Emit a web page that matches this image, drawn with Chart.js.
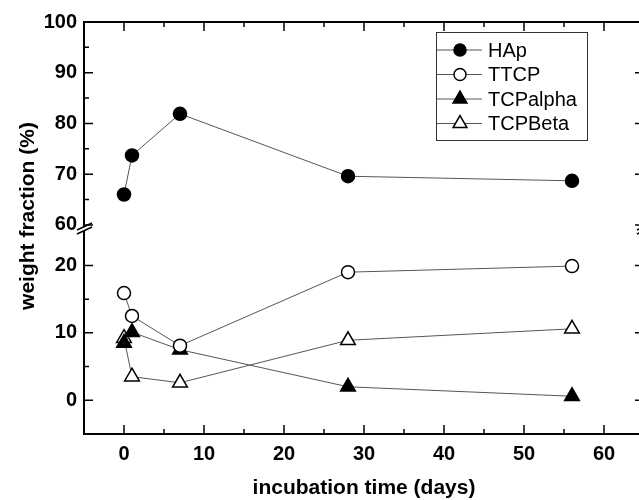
<!DOCTYPE html>
<html>
<head>
<meta charset="utf-8">
<script src="https://cdn.jsdelivr.net/npm/chart.js@4.4.1/dist/chart.umd.min.js"></script>
<style>
  html, body { margin: 0; padding: 0; background: #fff; overflow: hidden; }
  canvas { display: block; }
</style>
</head>
<body>
<canvas id="chart" width="660" height="500"></canvas>
<script>
// data
const days = [0, 1, 7, 28, 56];
const hap = [66.0, 73.7, 81.9, 69.6, 68.7];
const ttcp = [15.9, 12.5, 8.1, 19.0, 19.9];
const tcpAlpha = [8.5, 10.1, 7.5, 2.0, 0.6];
const tcpBeta = [9.2, 3.5, 2.6, 8.9, 10.6];
const seriesNames = ['HAp', 'TTCP', 'TCPalpha', 'TCPBeta'];
const xTicks = [0, 10, 20, 30, 40, 50, 60];
const yLowTicks = [0, 10, 20];
const yHighTicks = [60, 70, 80, 90, 100];

const FONT = '"Liberation Sans", Arial, sans-serif';
Chart.defaults.font.family = FONT;
Chart.defaults.color = '#000';

function pts(ys) {
    return days.map((d, i) => ({ x: d, y: ys[i] }));
}

const markers = [
    { style: 'circle', fill: '#000', r: 6.5 },
    { style: 'circle', fill: '#fff', r: 6.5 },
    { style: 'triangle', fill: '#000', r: 8.5 },
    { style: 'triangle', fill: '#fff', r: 8.5 }
];

function makeSet(i, ys, axis) {
    const m = markers[i];
    return {
        label: seriesNames[i],
        data: pts(ys),
        yAxisID: axis,
        borderColor: '#555',
        borderWidth: 1,
        pointStyle: m.style,
        pointRadius: m.r,
        pointBackgroundColor: m.fill,
        pointBorderColor: '#000',
        pointBorderWidth: 1.5,
        tension: 0
    };
}

function setTicks(list) {
    return function (scale) {
        scale.ticks = list.map(v => ({ value: v }));
    };
}

// frame, inward ticks, axis break, titles and boxed legend
const decorations = {
    id: 'decorations',
    afterDraw(chart) {
        const ctx = chart.ctx;
        const a = chart.chartArea;
        const x = chart.scales.x;
        const lo = chart.scales.yLow;
        const hi = chart.scales.yHigh;
        const brk = lo.top;
        ctx.save();
        ctx.strokeStyle = '#000';
        ctx.lineWidth = 2;
        ctx.beginPath();
        ctx.moveTo(a.left - 1, a.top); ctx.lineTo(a.right + 1, a.top);
        ctx.moveTo(a.left - 1, a.bottom); ctx.lineTo(a.right + 1, a.bottom);
        [a.left, a.right].forEach(px => {
            ctx.moveTo(px, a.top); ctx.lineTo(px, brk - 2);
            ctx.moveTo(px, brk + 2); ctx.lineTo(px, a.bottom);
        });
        ctx.stroke();

        ctx.lineWidth = 1.5;
        ctx.beginPath();
        // x ticks, top and bottom
        for (let v = 0; v <= 60; v += 5) {
            const px = x.getPixelForValue(v);
            const len = v % 10 === 0 ? 9 : 5;
            ctx.moveTo(px, a.bottom); ctx.lineTo(px, a.bottom - len);
            ctx.moveTo(px, a.top); ctx.lineTo(px, a.top + len);
        }
        // y ticks, left and right
        const yt = [];
        for (let v = 0; v <= 20; v += 5) yt.push([lo, v]);
        for (let v = 60; v < 100; v += 5) yt.push([hi, v]);
        yt.forEach(([s, v]) => {
            const py = s.getPixelForValue(v);
            const len = v % 10 === 0 ? 9 : 5;
            ctx.moveTo(a.left, py); ctx.lineTo(a.left + len, py);
            ctx.moveTo(a.right, py); ctx.lineTo(a.right - len, py);
        });
        ctx.stroke();

        // break marks
        ctx.lineWidth = 1.5;
        [a.left, a.right].forEach(px => {
            ctx.beginPath();
            ctx.moveTo(px - 7, brk + 1); ctx.lineTo(px + 8, brk - 6);
            ctx.moveTo(px - 7, brk + 5); ctx.lineTo(px + 8, brk - 2);
            ctx.stroke();
        });

        // axis titles
        ctx.fillStyle = '#000';
        ctx.font = 'bold 21px ' + FONT;
        ctx.textAlign = 'center';
        ctx.textBaseline = 'middle';
        ctx.fillText('incubation time (days)', (a.left + a.right) / 2, 488);
        ctx.translate(28, 216);
        ctx.rotate(-Math.PI / 2);
        ctx.fillText('weight fraction (%)', 0, 0);
        ctx.restore();

        // legend
        ctx.save();
        ctx.strokeStyle = '#333';
        ctx.lineWidth = 1;
        ctx.strokeRect(436.5, 32.5, 151, 108);
        ctx.font = '20px ' + FONT;
        ctx.textAlign = 'left';
        ctx.textBaseline = 'middle';
        const rows = [50, 74.5, 99, 123.5];
        seriesNames.forEach((name, i) => {
            const y = rows[i];
            const m = markers[i];
            ctx.strokeStyle = '#555';
            ctx.lineWidth = 1;
            ctx.beginPath();
            ctx.moveTo(437, y); ctx.lineTo(482, y);
            ctx.stroke();
            ctx.fillStyle = m.fill;
            ctx.strokeStyle = '#000';
            ctx.lineWidth = 1.5;
            Chart.helpers.drawPoint(ctx, { pointStyle: m.style, radius: m.r - 0.5, rotation: 0, borderWidth: 1.5 }, 460, y);
            ctx.fillStyle = '#000';
            ctx.fillText(name, 488, y + 1);
        });
        ctx.restore();
    }
};

const tickFont = { size: 20, weight: 'bold', family: FONT };

new Chart(document.getElementById('chart'), {
    type: 'line',
    data: {
        datasets: [
            makeSet(0, hap, 'yHigh'),
            makeSet(1, ttcp, 'yLow'),
            makeSet(2, tcpAlpha, 'yLow'),
            makeSet(3, tcpBeta, 'yLow')
        ]
    },
    options: {
        responsive: false,
        animation: false,
        layout: { padding: { top: 22, right: 16, left: 0, bottom: 0 } },
        plugins: {
            legend: { display: false },
            tooltip: { enabled: false }
        },
        scales: {
            x: {
                type: 'linear',
                min: -5,
                max: 65,
                afterBuildTicks: setTicks(xTicks),
                afterFit: s => { s.height = 66; },
                grid: { display: false, drawTicks: false },
                border: { display: false },
                ticks: { font: tickFont, padding: 8, maxRotation: 0 }
            },
            yLow: {
                type: 'linear',
                position: 'left',
                stack: 'wf',
                stackWeight: 205,
                min: -5,
                max: 25.4,
                afterBuildTicks: setTicks(yLowTicks),
                afterFit: s => { s.width = 84; },
                grid: { display: false, drawTicks: false },
                border: { display: false },
                ticks: { font: tickFont, padding: 7 }
            },
            yHigh: {
                type: 'linear',
                position: 'left',
                stack: 'wf',
                stackWeight: 207,
                min: 59.2,
                max: 100,
                afterBuildTicks: setTicks(yHighTicks),
                afterFit: s => { s.width = 84; },
                grid: { display: false, drawTicks: false },
                border: { display: false },
                ticks: { font: tickFont, padding: 7 }
            }
        }
    },
    plugins: [decorations]
});
</script>
</body>
</html>
